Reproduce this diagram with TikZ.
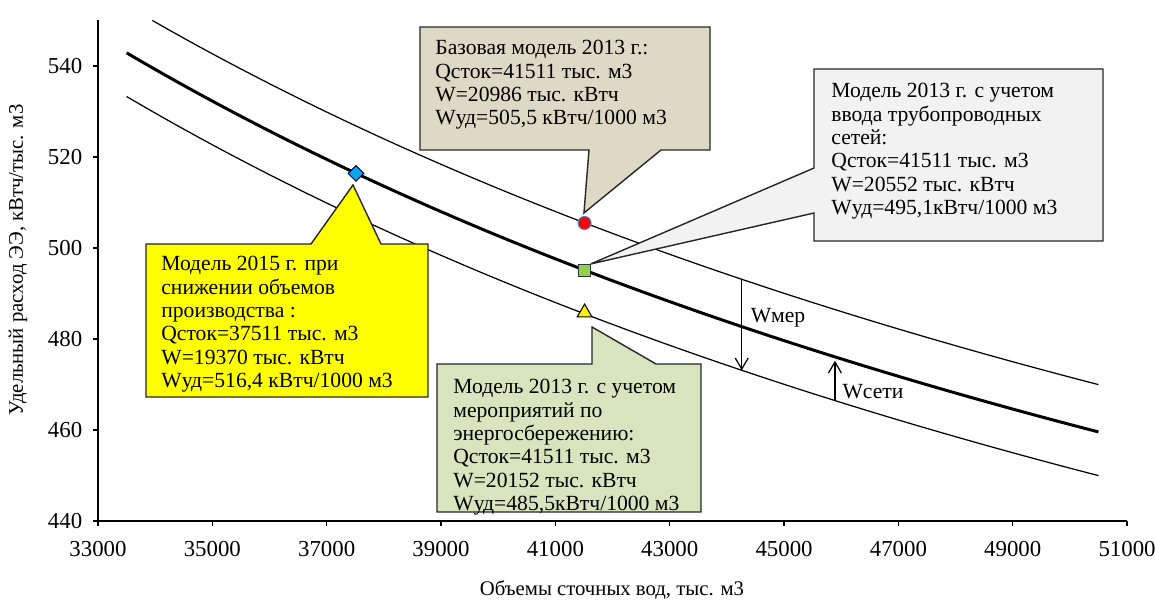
\documentclass[tikz,border=0pt]{standalone}
\usepackage{fontspec}
\setmainfont{Liberation Serif}
\usetikzlibrary{positioning,arrows.meta,shapes.geometric}

\definecolor{notebase}{HTML}{DDD9C4}
\definecolor{notenet}{HTML}{F2F2F2}
\definecolor{notesave}{HTML}{D7E4BD}
\definecolor{note15}{HTML}{FFFF00}
\definecolor{dotblue}{HTML}{0AA6E8}
\definecolor{dotgreen}{HTML}{92D050}
\definecolor{rimblue}{HTML}{4F81BD}

\begin{document}
\begin{tikzpicture}
    [x=1.1434cm, y=0.091cm, >={Straight Barb[length=2.2mm,width=2.6mm]},
     axisline/.style={line width=0.75pt},
     thincurve/.style={line width=0.7pt},
     maincurve/.style={line width=1.7pt},
     note/.style={draw=black!85, line width=0.8pt},
     notetext/.style={anchor=north west, inner sep=0pt, align=left, font=\fontsize{12.3}{13.3}\selectfont},
     ticklabel/.style={inner sep=0pt, font=\fontsize{13}{15}\selectfont},
     title/.style={inner sep=0pt, font=\fontsize{11.8}{13}\selectfont},
     dot/.style={inner sep=0pt, line width=0.6pt}]
    \useasboundingbox (31.286,422.86) rectangle (51.489,554.51);

    % axes
    \draw[axisline] (33,550) -- (33,440) -- (51,440);
    \foreach \v in {440,460,...,540}
      \draw[axisline] (33,\v) -- ++(-0.09,0)
        node[ticklabel, anchor=east, xshift=-0.2cm] (yl\v) {\v};
    \foreach \t in {33,35,...,51}
      \draw[axisline] (\t,440) -- ++(0,-1.1)
        node[ticklabel, anchor=north, yshift=-0.3cm] (xl\t) {\t000};
    \node[title, rotate=90] (ytitle) at (31.601,497.36) {Удельный расход ЭЭ, кВтч/тыс. м3};
    \node[title] (xtitle) at (41.991,424.84) {Объемы сточных вод, тыс. м3};

    % curves
    \draw[thincurve] plot[domain=33.95:50.5, samples=60, smooth] (\x, {305.8+8291/\x});
    \draw[maincurve] plot[domain=33.5:50.5, samples=60, smooth] (\x, {295.4+8291/\x});
    \draw[thincurve] plot[domain=33.5:50.5, samples=60, smooth] (\x, {285.8+8291/\x});

    % arrows between curves
    \coordinate (mertop) at (44.26,493.13);
    \coordinate (merbot) at (44.26,473.13);
    \draw[->, thincurve] (mertop) -- (merbot);
    \node[notetext, anchor=center] (lmer) at (44.894,484.62) {Wмер};
    \coordinate (setbot) at (45.89,466.47);
    \coordinate (settop) at (45.89,475.2);
    \draw[->, thincurve] (setbot) -- (settop);
    \node[notetext, anchor=center] (lset) at (46.556,468.35) {Wсети};

    % markers
    \node[dot, diamond, draw=black!70!blue, fill=dotblue, minimum size=0.32cm] (m15) at (37.511,516.4) {};
    \node[dot, circle, draw=rimblue, fill=red, minimum size=0.26cm] (mbase) at (41.511,505.5) {};
    \node[dot, rectangle, draw=black!80, fill=dotgreen, minimum size=0.23cm] (mnet) at (41.511,495.1) {};
    \node[dot, regular polygon, regular polygon sides=3, draw=black, fill=yellow, minimum size=0.34cm] (msave) at (41.511,485.8) {};

    % callouts
    \coordinate (tipbase) at (41.50,507.7);
    \coordinate (tipnet) at (41.62,496.5);
    \coordinate (tip15) at (37.46,513.85);
    \coordinate (tipsave) at (41.641,482.64);

    \filldraw[note, fill=notebase] (38.632,548.57) -- (43.705,548.57) -- (43.705,521.54)
      -- (42.848,521.54) -- (tipbase) -- (41.588,521.54) -- (38.632,521.54) -- cycle;
    \node[notetext] (tbase) at (38.895,545.71)
      {Базовая модель 2013 г.:\\Qсток=41511 тыс. м3\\W=20986 тыс. кВтч\\Wуд=505,5 кВтч/1000 м3};

    \filldraw[note, fill=notenet] (45.524,539.34) -- (50.579,539.34) -- (50.579,501.54)
      -- (45.524,501.54) -- (45.524,507.69) -- (tipnet) -- (45.524,517.58) -- cycle;
    \node[notetext] (tnet) at (45.822,536.26)
      {Модель 2013 г. с учетом\\ввода трубопроводных\\сетей:\\Qсток=41511 тыс. м3\\W=20552 тыс. кВтч\\Wуд=495,1кВтч/1000 м3};

    \filldraw[note, fill=note15] (33.840,500.88) -- (36.726,500.88) -- (tip15) -- (37.950,500.88)
      -- (38.772,500.88) -- (38.772,467.25) -- (33.840,467.25) -- cycle;
    \node[notetext] (t15) at (34.102,498.24)
      {Модель 2015 г. при\\снижении объемов\\производства :\\Qсток=37511 тыс. м3\\W=19370 тыс. кВтч\\Wуд=516,4 кВтч/1000 м3};

    \filldraw[note, fill=notesave] (38.930,474.51) -- (41.641,474.51) -- (tipsave) -- (42.760,474.51)
      -- (43.548,474.51) -- (43.548,441.98) -- (38.930,441.98) -- cycle;
    \node[notetext] (tsave) at (39.210,471.21)
      {Модель 2013 г. с учетом\\мероприятий по\\энергосбережению:\\Qсток=41511 тыс. м3\\W=20152 тыс. кВтч\\Wуд=485,5кВтч/1000 м3};
\end{tikzpicture}
\end{document}
